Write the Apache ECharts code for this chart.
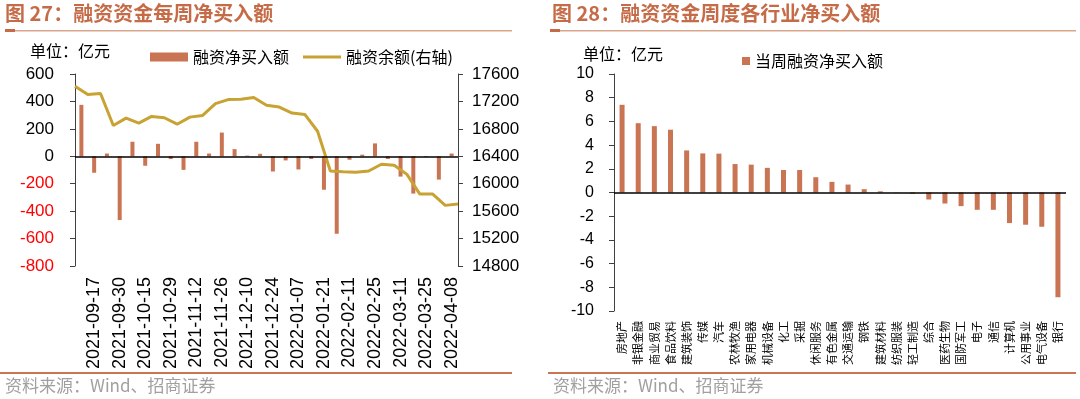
<!DOCTYPE html>
<html>
<head>
<meta charset="utf-8">
<script src="https://cdn.jsdelivr.net/npm/echarts@6/dist/echarts.min.js"></script>
<style>
  html, body { margin: 0; background: #fff; }
  #chart { width: 1080px; height: 399px; }
</style>
</head>
<body>
<div id="chart"></div>
<script>
// 图27: weekly net buy (bars) and financing balance (line, right axis)
const weeks = [
  '2021-09-10', '2021-09-17', '2021-09-24', '2021-09-30', '2021-10-08', '2021-10-15',
  '2021-10-22', '2021-10-29', '2021-11-05', '2021-11-12', '2021-11-19', '2021-11-26',
  '2021-12-03', '2021-12-10', '2021-12-17', '2021-12-24', '2021-12-31', '2022-01-07',
  '2022-01-14', '2022-01-21', '2022-01-28', '2022-02-11', '2022-02-18', '2022-02-25',
  '2022-03-04', '2022-03-11', '2022-03-18', '2022-03-25', '2022-04-01', '2022-04-08',
]
const netBuy = [
  375, -120, 20, -465, 106, -69, 91, -20, -99, 106,
  20, 173, 52, 5, 18, -111, -30, -96, -20, -244,
  -565, -25, 12, 94, -20, -148, -272, -5, -170, 20,
]
// balance is plotted on the week boundaries, one more point than bars
const balanceWeeks = ['2021-09-03', ...weeks]
const balance = [
  17423, 17301, 17315, 16848, 16956, 16883, 16981, 16962, 16868, 16971,
  16996, 17168, 17227, 17232, 17256, 17143, 17118, 17030, 17010, 16765,
  16185, 16175, 16166, 16185, 16284, 16269, 16136, 15851, 15851, 15684,
  15704,
]

// 图28: weekly net buy by industry
const industries = [
  '房地产', '非银金融', '商业贸易', '食品饮料', '建筑装饰', '传媒', '汽车',
  '农林牧渔', '家用电器', '机械设备', '化工', '采掘', '休闲服务', '有色金属',
  '交通运输', '钢铁', '建筑材料', '纺织服装', '轻工制造', '综合', '医药生物',
  '国防军工', '电子', '通信', '计算机', '公用事业', '电气设备', '银行',
]
const industryNetBuy = [
  7.4, 5.85, 5.6, 5.3, 3.55, 3.3, 3.28, 2.4, 2.35, 2.08, 1.9, 1.9, 1.29, 0.9,
  0.67, 0.28, 0.1, 0.02, -0.1, -0.59, -0.93, -1.15, -1.46, -1.46, -2.58, -2.72,
  -2.89, -8.84,
]

const cjk = '"Noto Sans CJK SC", sans-serif'
const num = '"Liberation Sans", Arial, sans-serif'
const barColor = '#C97452'
const lineColor = '#C8A233'
const titleColor = '#C66B47'
const ruleColor = '#C97452'
const axisColor = '#404040'

const chart = echarts.init(document.getElementById('chart'))

function valueAxis(extra) {
  return Object.assign({
    type: 'value',
    splitLine: { show: false },
    axisLine: { show: true, lineStyle: { color: axisColor, width: 1 } },
    axisTick: { show: true, length: 5, lineStyle: { color: axisColor } },
  }, extra)
}

const zeroLine = {
  silent: true,
  symbol: 'none',
  label: { show: false },
  lineStyle: { color: '#000', width: 1.5, type: 'solid' },
  data: [{ yAxis: 0 }],
}

function text(x, y, str, style) {
  return {
    type: 'text', left: x, top: y,
    style: Object.assign({ text: str, fontFamily: cjk, fill: '#000', fontSize: 16 }, style),
  }
}

function rect(x, y, w, h, fill) {
  return { type: 'rect', shape: { x, y, width: w, height: h }, style: { fill } }
}

chart.setOption({
  animation: false,
  textStyle: { fontFamily: num },
  grid: [
    { left: 75, top: 74, width: 383, height: 192 },
    { left: 614, top: 74, width: 452, height: 237 },
  ],
  legend: [
    {
      left: 145, top: 44, icon: 'rect', itemWidth: 38, itemHeight: 9, itemGap: 0,
      textStyle: { fontFamily: cjk, fontSize: 16, color: '#000' },
      data: ['融资净买入额'],
    },
    {
      left: 298, top: 44, icon: 'rect', itemWidth: 38, itemHeight: 3, itemGap: 0,
      textStyle: { fontFamily: cjk, fontSize: 16, color: '#000' },
      data: ['融资余额(右轴)'],
    },
    {
      left: 737, top: 48, icon: 'rect', itemWidth: 8, itemHeight: 8, itemTextGap: 5,
      textStyle: { fontFamily: cjk, fontSize: 16, color: '#000' },
      data: ['当周融资净买入额'],
    },
  ],
  xAxis: [
    {
      gridIndex: 0, type: 'category', data: weeks,
      axisLine: { show: false }, axisTick: { show: false },
      axisLabel: {
        rotate: 90, interval: (i) => i % 2 === 1, fontSize: 18,
        fontFamily: num, color: '#000', margin: 11,
      },
    },
    {
      gridIndex: 0, type: 'category', data: balanceWeeks, boundaryGap: false, show: false,
    },
    {
      gridIndex: 1, type: 'category', data: industries,
      axisLine: { show: false }, axisTick: { show: false },
      axisLabel: {
        rotate: 90, interval: 0, fontSize: 11, fontFamily: cjk, color: '#000', margin: 10,
      },
    },
  ],
  yAxis: [
    valueAxis({
      gridIndex: 0, min: -800, max: 600, interval: 200,
      axisLabel: {
        fontSize: 17, fontFamily: num, margin: 21,
        formatter: (v) => String(v),
        color: (v) => (Number(v) < 0 ? '#FF0000' : '#000'),
      },
    }),
    valueAxis({
      gridIndex: 0, position: 'right', min: 14800, max: 17600, interval: 400,
      axisLabel: {
        fontSize: 17, fontFamily: num, color: '#000', margin: 14,
        formatter: (v) => String(v),
      },
    }),
    valueAxis({
      gridIndex: 1, min: -10, max: 10, interval: 2,
      axisLabel: {
        fontSize: 16, fontFamily: num, color: '#000', margin: 20,
        formatter: (v) => String(v),
      },
    }),
  ],
  series: [
    {
      name: '融资净买入额', type: 'bar', xAxisIndex: 0, yAxisIndex: 0,
      data: netBuy, barWidth: 4, itemStyle: { color: barColor },
      markLine: zeroLine,
    },
    {
      name: '融资余额(右轴)', type: 'line', xAxisIndex: 1, yAxisIndex: 1,
      data: balance, showSymbol: false, symbol: 'none',
      lineStyle: { color: lineColor, width: 3 }, itemStyle: { color: lineColor },
    },
    {
      name: '当周融资净买入额', type: 'bar', xAxisIndex: 2, yAxisIndex: 2,
      data: industryNetBuy, barWidth: 5, itemStyle: { color: barColor },
      markLine: zeroLine,
    },
  ],
  graphic: [
    // left panel frame
    text(5, 3, '图 27：融资资金每周净买入额', { fontSize: 20, fontWeight: 'bold', fill: titleColor }),
    rect(5, 30, 507, 1.5, '#D9A68C'),
    rect(5, 29, 10, 3, titleColor),
    text(30, 43, '单位：亿元'),
    rect(0, 372, 512, 2, ruleColor),
    text(5, 377, '资料来源：Wind、招商证券', { fill: '#A0A0A0', fontSize: 17 }),
    // right panel frame
    text(552, 3, '图 28：融资资金周度各行业净买入额', { fontSize: 20, fontWeight: 'bold', fill: titleColor }),
    rect(550, 30, 526, 1.5, '#D9A68C'),
    rect(550, 29, 10, 3, titleColor),
    text(583, 46, '单位：亿元'),
    rect(548, 372, 528, 2, ruleColor),
    text(553, 377, '资料来源：Wind、招商证券', { fill: '#A0A0A0', fontSize: 17 }),
  ],
})
</script>
</body>
</html>
